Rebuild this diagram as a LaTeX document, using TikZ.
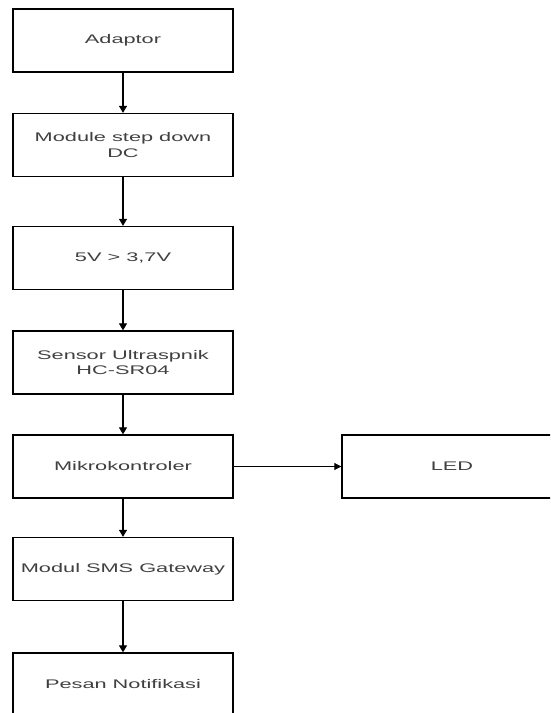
\documentclass[tikz,border=0pt]{standalone}
\usepackage{fontspec}
\setmainfont[FakeStretch=1.74]{Liberation Sans}
\usetikzlibrary{arrows.meta}
\tikzset{
  blk/.style={draw=black, line width=1.4pt, fill=white, minimum width=220pt, minimum height=63pt, inner sep=0pt,
    align=center, text=black!75, font=\fontsize{12.5}{15.5}\selectfont},
  arr/.style={line width=1.3pt, -{Triangle[length=7pt,width=8pt]}},
  harr/.style={line width=1pt, -{Triangle[length=7pt,width=7pt]}}
}
\begin{document}
\begin{tikzpicture}[x=1pt,y=-1pt]
\useasboundingbox (0,0) rectangle (550,713);
\clip (0,0) rectangle (550,713);
\fill[white] (0,0) rectangle (550,713);
\node[blk] (adaptor) at (123,40.5) {Adaptor};
\node[blk] (stepdown) at (123,145) {Module step down\\DC};
\node[blk] (volt) at (123,258) {5V > 3,7V};
\node[blk] (sensor) at (123,362.5) {Sensor Ultraspnik\\HC-SR04};
\node[blk] (mcu) at (123,466.5) {Mikrokontroler};
\node[blk] (led) at (452,466.5) {LED};
\node[blk] (sms) at (123,569) {Modul SMS Gateway};
\node[blk] (notif) at (123,684.5) {Pesan Notifikasi};
\draw[arr] (adaptor) -- (stepdown);
\draw[arr] (stepdown) -- (volt);
\draw[arr] (volt) -- (sensor);
\draw[arr] (sensor) -- (mcu);
\draw[arr] (mcu) -- (sms);
\draw[arr] (sms) -- (notif);
\draw[harr] (mcu) -- (led);
\end{tikzpicture}
\end{document}
